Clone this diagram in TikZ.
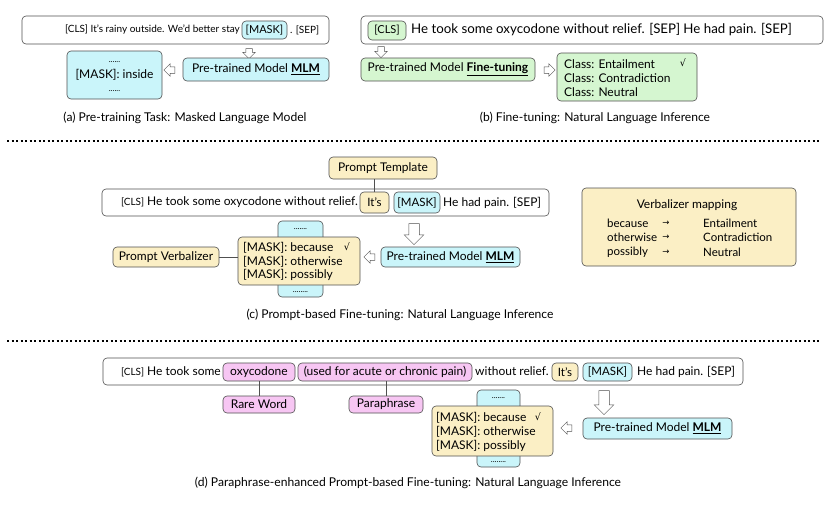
\documentclass[tikz,border=0pt]{standalone}
\usepackage{fontspec}
\setmainfont{Lato}
\newfontfamily\symfont{DejaVu Sans}
\usetikzlibrary{shapes.arrows}
\definecolor{cyanf}{HTML}{CAF5FA}
\definecolor{greenf}{HTML}{D5F6D0}
\definecolor{yellowf}{HTML}{FBEFC5}
\definecolor{pinkf}{HTML}{F7C6F3}
\definecolor{edgec}{HTML}{505050}
\newcommand\fsz[1]{\fontsize{#1}{#1}\selectfont}
\newcommand\kw[1]{\underline{\textbf{#1}}}
\newcommand\chk{{\symfont\fsz{9.5}√}}
\newcommand\arr{{\symfont\fsz{8.5}→}}
\newcommand\rbox[7]{\node[#2, minimum width={(#5-#3)*1pt}, minimum height={(#6-#4)*1pt}] (#1) at ({(#3+#5)/2},{(#4+#6)/2}) {#7};}
\begin{document}
\begin{tikzpicture}[x=1pt,y=-1pt,
 bx/.style={draw=edgec, line width=0.6pt, rounded corners=4pt, inner sep=0pt, align=center, font=\fsz{12}},
 wb/.style={bx, fill=white},
 cb/.style={bx, fill=cyanf},
 gb/.style={bx, fill=greenf},
 yb/.style={bx, fill=yellowf},
 pb/.style={bx, fill=pinkf},
 tx/.style={inner sep=0pt, font=\fsz{12}},
 captxt/.style={inner sep=0pt, font=\fsz{12.1}},
 dotl/.style={inner sep=0pt, font=\fsz{8}},
 harrow/.style={single arrow, draw=edgec, fill=white, line width=0.5pt, inner sep=3pt, minimum width=12pt, single arrow head extend=3pt, minimum height=11pt},
 bigarrow/.style={harrow, inner sep=5pt, minimum width=19pt, single arrow head extend=4.5pt},
 sepline/.style={line width=2.2pt, dash pattern=on 2.2pt off 2.3pt},
 link/.style={draw=edgec, line width=0.6pt}
]
\useasboundingbox (0,0) rectangle (830,507);
% ---------- (a)
\rbox{sa}{wb}{22}{16}{329}{44}{}
\rbox{ma}{cb}{242}{21}{287}{39}{\fsz{11}[MASK]}
\node[tx, font=\fsz{10}, anchor=east] (sat) at (240,30) {[CLS] It's rainy outside. We'd better stay};
\node[tx, font=\fsz{10}, anchor=west] (sas) at (290,30) {. [SEP]};
\node[harrow, shape border rotate=270, minimum height=10pt] (da) at (249,52) {};
\rbox{mlma}{cb}{183}{58}{329}{81}{Pre-trained Model \kw{MLM}}
\node[harrow, shape border rotate=180] (la) at (171,70) {};
\rbox{oa}{cb}{67}{51}{162}{99}{}
\node[dotl] (oa1) at (114.5,62) {......};
\node[tx] (oa2) at (114.5,75) {[MASK]: inside};
\node[dotl] (oa3) at (114.5,91) {......};
\node[captxt] (capa) at (185,118) {(a) Pre-training Task: Masked Language Model};
% ---------- (b)
\rbox{sb}{wb}{361}{16}{823}{44}{}
\rbox{clsb}{gb}{368}{21}{406}{40}{\fsz{11}[CLS]}
\node[tx, font=\fsz{13.3}, anchor=west] (sbt) at (411,30) {He took some oxycodone without relief. [SEP] He had pain. [SEP]};
\node[harrow, shape border rotate=270] (db) at (381,50.5) {};
\rbox{ftb}{gb}{361}{58}{535}{81}{Pre-trained Model \kw{Fine-tuning}}
\node[harrow] (rb) at (548,70) {};
\rbox{clb}{gb}{557}{53}{697}{101}{}
\node[tx, anchor=west] (c1) at (564,64) {Class: Entailment};
\node[tx, anchor=west] (c2) at (564,78) {Class: Contradiction};
\node[tx, anchor=west] (c3) at (564,92) {Class: Neutral};
\node[tx] (ck1) at (683,63) {\chk};
\node[captxt] (capb) at (595,118) {(b) Fine-tuning: Natural Language Inference};
% separator
\coordinate (s1a) at (7,141); \coordinate (s1b) at (820,141);
\draw[sepline] (s1a) -- (s1b);
% ---------- (c)
\rbox{pt}{yb}{329}{157}{437}{179}{Prompt Template}
\rbox{sc}{wb}{102}{189}{549}{216}{}
\rbox{itsc}{yb}{360}{192}{389}{213}{\fsz{11.5}It's}
\rbox{mkc}{cb}{394}{192}{440}{213}{\fsz{11.5}[MASK]}
\node[tx, anchor=east] (sct1) at (358,202.5) {{\fsz{10}[CLS]} He took some oxycodone without relief.};
\node[tx, anchor=west] (sct2) at (443,202.5) {He had pain. [SEP]};
\draw[link] (itsc.north) -- (itsc.north |- pt.south);
\node[bigarrow, shape border rotate=270, minimum height=21pt] (dc) at (414,231.5) {};
\rbox{mlmc}{cb}{381}{247}{520}{267}{Pre-trained Model \kw{MLM}}
\node[harrow, shape border rotate=180] (lc) at (371,257) {};
\rbox{tabc}{cb}{278}{221}{323}{297}{}
\rbox{vc}{yb}{238}{237}{360}{285}{}
\node[dotl] (tc1) at (300.5,229) {.......};
\node[dotl] (tc2) at (300.5,292) {........};
\node[tx, anchor=west] (vc1) at (243,248) {[MASK]: because};
\node[tx, anchor=west] (vc2) at (243,261.5) {[MASK]: otherwise};
\node[tx, anchor=west] (vc3) at (243,275) {[MASK]: possibly};
\node[tx] (vck) at (347,247) {\chk};
\rbox{pv}{yb}{113}{247}{219}{267}{Prompt Verbalizer}
\draw[link] (pv.east) -- (vc.west |- pv.east);
\node[captxt] (capc) at (400,315) {(c) Prompt-based Fine-tuning: Natural Language Inference};
% verbalizer mapping
\rbox{vm}{yb}{582}{188}{796}{266}{}
\node[tx] (vmt) at (687,205) {Verbalizer mapping};
\node[tx, font=\fsz{11.5}, anchor=west] (m1a) at (607,223) {because};
\node[tx, font=\fsz{11.5}, anchor=west] (m2a) at (607,237.5) {otherwise};
\node[tx, font=\fsz{11.5}, anchor=west] (m3a) at (607,252) {possibly};
\node[tx] (m1b) at (666,223) {\arr};
\node[tx] (m2b) at (666,237.5) {\arr};
\node[tx] (m3b) at (666,252) {\arr};
\node[tx, font=\fsz{11.5}, anchor=west] (m1c) at (703,223) {Entailment};
\node[tx, font=\fsz{11.5}, anchor=west] (m2c) at (703,237.5) {Contradiction};
\node[tx, font=\fsz{11.5}, anchor=west] (m3c) at (703,252) {Neutral};
% separator
\coordinate (s2a) at (7,341); \coordinate (s2b) at (820,341);
\draw[sepline] (s2a) -- (s2b);
% ---------- (d)
\rbox{sd}{wb}{103}{358}{743}{385}{}
\node[tx, anchor=east] (sdt1) at (221,371.5) {{\fsz{10}[CLS]} He took some};
\rbox{oxy}{pb}{223}{363}{295}{381}{oxycodone}
\rbox{para}{pb}{298}{363}{472}{381}{(used for acute or chronic pain)}
\node[tx, anchor=west] (sdt2) at (475,371.5) {without relief.};
\rbox{itsd}{yb}{552}{363}{578}{381}{\fsz{11.5}It's}
\rbox{mkd}{cb}{583}{363}{632}{381}{\fsz{11.5}[MASK]}
\node[tx, anchor=west] (sdt3) at (637,371.5) {He had pain. [SEP]};
\rbox{rare}{pb}{223}{396}{295}{413}{Rare Word}
\rbox{parw}{pb}{349}{396}{423}{413}{Paraphrase}
\draw[link] (oxy.south) -- (rare.north);
\draw[link] (parw.north) -- (parw.north |- para.south);
\node[bigarrow, shape border rotate=270, minimum height=24pt] (dd) at (604,400) {};
\rbox{mlmd}{cb}{583}{418}{732}{439}{Pre-trained Model \kw{MLM}}
\node[harrow, shape border rotate=180] (ld) at (568,428) {};
\rbox{tabd}{cb}{477}{390}{520}{467}{}
\rbox{vd}{yb}{432}{406}{553}{456}{}
\node[dotl] (td1) at (498.5,398) {.......};
\node[dotl] (td2) at (498.5,462) {........};
\node[tx, anchor=west] (vd1) at (436,418) {[MASK]: because};
\node[tx, anchor=west] (vd2) at (436,432) {[MASK]: otherwise};
\node[tx, anchor=west] (vd3) at (436,446) {[MASK]: possibly};
\node[tx] (vdk) at (538,417) {\chk};
\node[captxt] (capd) at (408,483) {(d) Paraphrase-enhanced Prompt-based Fine-tuning: Natural Language Inference};
\end{tikzpicture}
\end{document}
